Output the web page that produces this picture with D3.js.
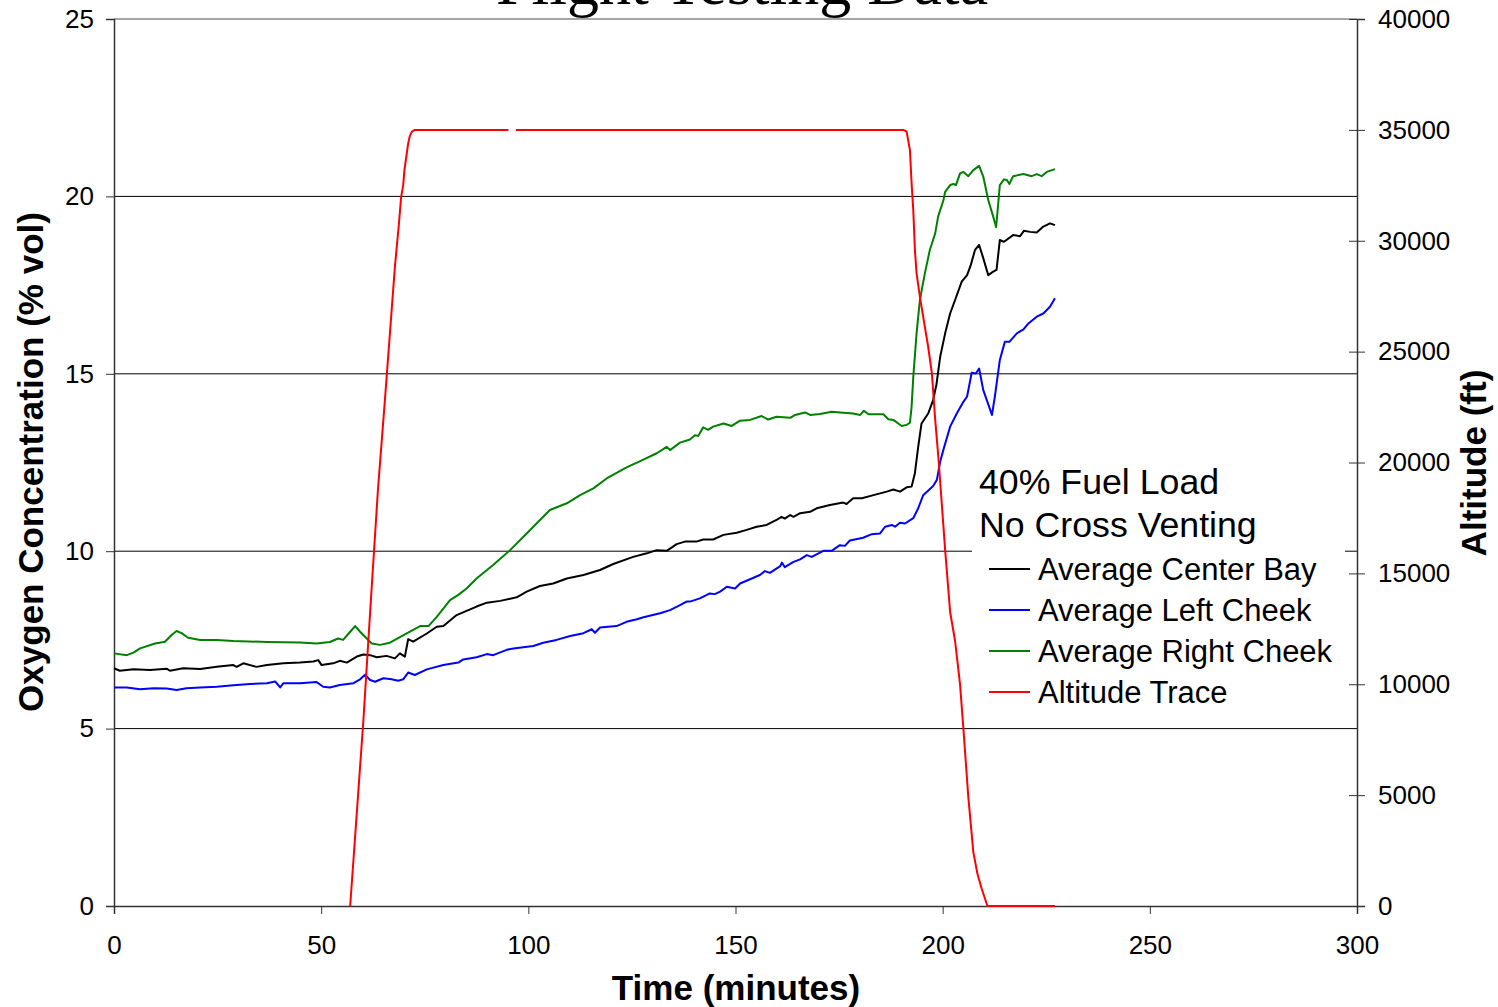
<!DOCTYPE html>
<html>
<head>
<meta charset="utf-8">
<script src="https://cdn.jsdelivr.net/npm/d3@7"></script>
<style>
  body { margin: 0; background: #fff; }
  svg { display: block; }
  text { font-family: "Liberation Sans", Arial, sans-serif; }
</style>
</head>
<body>
<div id="container"></div>
<script>
// values (time in minutes)
const centerTime = [0,1.4,4.7,8.7,12.7,13.5,16.7,20.8,24.8,28.8,29.6,31.2,34.4,36.9,40.9,44.9,48.1,49.3,50.1,52.9,54.5,56.2,58.6,60.2,61.8,63.4,65.8,67.8,69.0,70.2,71.0,72.2,75.5,77.9,79.5,82.7,87.5,90.0,93.2,97.2,99.6,102.8,106.0,109.3,113.3,117.3,120.5,125.3,128.6,131.0,133.4,135.8,137.8,140.6,142.2,144.6,147.1,150.3,152.7,155.1,157.5,159.9,161.1,161.9,163.2,164.0,165.6,168.0,169.6,172.8,176.0,176.8,178.4,180.5,183.3,186.5,188.1,189.7,191.3,192.5,193.3,194.1,194.9,196.5,197.7,198.5,199.4,200.6,201.8,203.0,204.6,205.9,206.8,207.8,208.8,209.8,211.0,212.2,213.0,213.8,214.8,217.0,218.7,219.6,221.1,222.7,224.3,225.9,227.1];
const centerO2 = [6.70,6.63,6.67,6.65,6.69,6.63,6.70,6.68,6.74,6.79,6.74,6.84,6.74,6.79,6.84,6.86,6.89,6.93,6.79,6.84,6.91,6.86,7.03,7.09,7.07,7.01,7.05,6.98,7.12,7.03,7.52,7.45,7.68,7.87,7.89,8.20,8.44,8.55,8.60,8.70,8.86,9.02,9.09,9.23,9.33,9.47,9.64,9.84,9.94,10.03,10.01,10.20,10.27,10.27,10.33,10.33,10.46,10.52,10.60,10.69,10.74,10.88,10.97,10.92,11.02,10.97,11.07,11.11,11.21,11.30,11.37,11.33,11.49,11.49,11.58,11.68,11.74,11.68,11.80,11.82,12.20,12.95,13.60,13.88,14.26,14.70,15.48,16.14,16.70,17.08,17.60,17.78,18.07,18.49,18.63,18.26,17.78,17.88,17.93,18.77,18.72,18.91,18.88,19.03,19.00,18.98,19.15,19.24,19.19];

const leftTime = [0,3.1,6.3,9.5,12.7,15.1,17.5,20.8,24.8,28.8,32.8,36.9,38.9,40.1,40.9,44.9,48.9,50.5,52.1,54.5,57.8,59.4,60.6,61.8,63.0,65.0,67.0,68.6,69.8,71.0,72.6,75.5,79.5,83.1,84.3,87.5,90.0,91.5,94.8,96.4,101.2,103.6,106.8,110.1,113.3,115.3,116.1,117.3,121.3,123.7,126.2,127.8,131.8,134.2,136.6,138.2,139.0,141.4,143.8,145.0,146.3,147.9,149.9,151.1,153.5,155.9,157.1,158.3,160.8,161.2,161.9,164.0,165.6,167.2,168.4,171.2,173.2,175.2,176.4,177.6,180.8,182.9,184.9,186.1,187.7,188.5,189.7,190.9,192.9,194.1,195.3,197.7,198.6,199.4,200.2,201.8,203.4,205.0,205.9,207.0,208.0,208.8,209.8,210.8,211.9,212.6,213.8,215.0,216.1,217.9,219.5,220.7,222.7,224.3,225.9,227.1];
const leftO2 = [6.16,6.16,6.11,6.14,6.13,6.09,6.14,6.16,6.18,6.22,6.26,6.28,6.33,6.16,6.28,6.28,6.31,6.18,6.16,6.23,6.28,6.39,6.52,6.37,6.32,6.42,6.39,6.35,6.39,6.58,6.51,6.67,6.79,6.86,6.95,7.01,7.10,7.07,7.22,7.26,7.33,7.42,7.50,7.61,7.69,7.80,7.70,7.85,7.89,8.01,8.08,8.14,8.25,8.34,8.48,8.58,8.58,8.67,8.81,8.79,8.86,9.00,8.95,9.09,9.21,9.33,9.44,9.39,9.58,9.68,9.55,9.70,9.77,9.89,9.84,10.01,10.01,10.17,10.15,10.30,10.38,10.48,10.50,10.69,10.74,10.69,10.80,10.78,10.93,11.21,11.58,11.84,12.01,12.52,12.87,13.51,13.88,14.21,14.36,15.03,15.01,15.15,14.54,14.21,13.84,14.36,15.39,15.90,15.90,16.14,16.25,16.42,16.61,16.70,16.89,17.13];

const rightTime = [0,3.1,4.7,6.3,9.9,12.3,13.9,15.1,16.3,17.9,20.8,24.8,28.8,36.9,44.9,48.9,52.1,54.1,55.3,57.0,58.2,59.4,61.0,62.2,64.2,66.6,69.0,72.2,73.9,75.9,77.9,81.1,83.1,85.1,87.5,91.5,95.6,99.6,102.4,105.2,109.3,112.5,115.7,118.9,123.7,127.0,131.0,133.4,134.2,136.6,139.0,140.2,141.0,142.2,143.4,144.6,147.1,149.1,151.1,153.5,156.3,157.9,159.9,163.2,164.4,166.8,168.0,170.4,173.2,176.0,178.4,180.1,181.0,182.1,185.7,186.9,188.1,190.1,191.3,192.1,192.5,192.9,193.7,194.5,195.7,196.9,198.2,198.9,200.2,200.6,201.8,202.6,203.2,204.2,205.0,206.2,207.4,208.8,209.8,211.0,212.2,212.9,213.8,214.8,215.5,216.1,217.0,219.5,221.5,222.7,223.9,225.1,227.1];
const rightO2 = [7.12,7.07,7.14,7.26,7.40,7.45,7.64,7.75,7.69,7.56,7.50,7.50,7.47,7.44,7.43,7.40,7.44,7.54,7.50,7.73,7.89,7.73,7.54,7.40,7.36,7.42,7.58,7.78,7.89,7.89,8.15,8.62,8.77,8.95,9.23,9.61,10.03,10.50,10.83,11.16,11.35,11.58,11.77,12.05,12.36,12.54,12.76,12.94,12.85,13.06,13.15,13.27,13.25,13.49,13.42,13.51,13.60,13.53,13.68,13.70,13.81,13.71,13.79,13.76,13.84,13.91,13.84,13.87,13.93,13.90,13.88,13.84,13.96,13.86,13.86,13.72,13.70,13.53,13.56,13.62,14.07,14.90,16.14,17.08,17.83,18.49,18.96,19.43,19.90,20.13,20.32,20.35,20.32,20.65,20.69,20.57,20.74,20.86,20.56,19.90,19.43,19.13,20.32,20.48,20.46,20.35,20.57,20.63,20.57,20.63,20.57,20.69,20.77];

// altitude trace (ft); null marks the short data gap on the plateau
const altTime = [57.0,60.2,62.0,63.7,65.4,66.6,67.8,68.7,69.3,69.8,70.1,71.0,71.4,71.9,72.6,95.2,96.1,97.0,190.5,191.3,192.1,192.5,192.9,193.3,193.7,194.5,195.7,196.5,197.4,198.2,199.0,200.6,201.8,203.0,204.2,205.0,206.2,207.4,208.4,209.4,210.8,227.1];
const altFt = [0,8400,13800,18760,22860,25840,28830,30630,31970,32510,33190,34390,34720,34920,35000,35000,null,35000,35000,34920,34090,32590,31390,29580,28530,27480,26120,25220,24020,21920,20150,16050,13260,11950,9980,8000,4890,2430,1440,790,0,0];

const timeTicks = [0,50,100,150,200,250,300];
const o2Ticks = [0,5,10,15,20,25];
const altTicks = [0,5000,10000,15000,20000,25000,30000,35000,40000];

const seriesNames = ["Average Center Bay","Average Left Cheek","Average Right Cheek","Altitude Trace"];
const seriesColors = ["#000000","#0000ff","#008000","#ff0000"];

const widthSVG = 1498, heightSVG = 1007;
const plot = {left:114, right:1357, top:19, bottom:906};

const svg = d3.select('#container').append('svg')
  .attr('width', widthSVG).attr('height', heightSVG);

const x = d3.scaleLinear().domain([0,300]).range([plot.left, plot.right]);
const yO2 = d3.scaleLinear().domain([0,25]).range([plot.bottom, plot.top]);
const yAlt = d3.scaleLinear().domain([0,40000]).range([plot.bottom, plot.top]);

// title (runs off the top of the picture, as in the original)
svg.append('text')
  .attr('x', 742).attr('y', 4)
  .attr('text-anchor','middle')
  .style('font-family','"Liberation Serif", "Times New Roman", serif')
  .style('font-size','64px')
  .text('Flight Testing Data');

// horizontal gridlines
svg.append('g').selectAll('line')
  .data(o2Ticks.filter(d => d > 0 && d < 25))
  .enter().append('line')
  .attr('x1', plot.left).attr('x2', plot.right)
  .attr('y1', d => yO2(d)).attr('y2', d => yO2(d))
  .attr('stroke','#000').attr('stroke-width',1);

// top border of the plot area
svg.append('line')
  .attr('x1', plot.left).attr('x2', plot.right)
  .attr('y1', plot.top).attr('y2', plot.top)
  .attr('stroke','#888').attr('stroke-width',1.5);

// axes
const fontTick = '26px';

const xAxis = svg.append('g')
  .attr('transform', `translate(0,${plot.bottom})`)
  .call(d3.axisBottom(x).tickValues(timeTicks).tickSize(8).tickPadding(22).tickFormat(d3.format('d')));

const leftAxis = svg.append('g')
  .attr('transform', `translate(${plot.left},0)`)
  .call(d3.axisLeft(yO2).tickValues(o2Ticks).tickSize(8).tickPadding(12).tickFormat(d3.format('d')));

const rightAxis = svg.append('g')
  .attr('transform', `translate(${plot.right},0)`)
  .call(d3.axisRight(yAlt).tickValues(altTicks).tickSize(8).tickPadding(13).tickFormat(d3.format('d')));
rightAxis.selectAll('.tick line').attr('x1', -8);

[xAxis, leftAxis, rightAxis].forEach(a => {
  a.select('.domain').attr('stroke','#333').attr('stroke-width',1.5);
  a.selectAll('.tick line').attr('stroke','#333');
  a.selectAll('.tick text')
    .style('font-family','"Liberation Sans", Arial, sans-serif')
    .style('font-size', fontTick).attr('fill','#000');
});

// axis titles
svg.append('text')
  .attr('x', 736).attr('y', 1000)
  .attr('text-anchor','middle')
  .style('font-size','35px').style('font-weight','bold')
  .text('Time (minutes)');

svg.append('text')
  .attr('transform','translate(43,462) rotate(-90)')
  .attr('text-anchor','middle')
  .style('font-size','35px').style('font-weight','bold')
  .text('Oxygen Concentration (% vol)');

svg.append('text')
  .attr('transform','translate(1486,463) rotate(-90)')
  .attr('text-anchor','middle')
  .style('font-size','35px').style('font-weight','bold')
  .text('Altitude (ft)');

// series lines
const o2Line = d3.line().x(d => x(d[0])).y(d => yO2(d[1]));
const altLine = d3.line().defined(d => d[1] !== null).x(d => x(d[0])).y(d => yAlt(d[1]));

const o2Series = [
  d3.zip(centerTime, centerO2),
  d3.zip(leftTime, leftO2),
  d3.zip(rightTime, rightO2)
];

const lines = svg.append('g').attr('fill','none').attr('stroke-width',2).attr('stroke-linejoin','round');
o2Series.forEach((s, i) => {
  lines.append('path').attr('d', o2Line(s)).attr('stroke', seriesColors[i]);
});
lines.append('path').attr('d', altLine(d3.zip(altTime, altFt))).attr('stroke', seriesColors[3]);

// legend
const legend = svg.append('g').attr('transform','translate(972,455)');
legend.append('rect').attr('width',373).attr('height',258).attr('fill','#fff');
legend.append('text').attr('x',7).attr('y',39).style('font-size','35.7px').text('40% Fuel Load');
legend.append('text').attr('x',7).attr('y',82).style('font-size','35.7px').text('No Cross Venting');

const entries = legend.selectAll('g.entry')
  .data(seriesNames)
  .enter().append('g')
  .attr('class','entry')
  .attr('transform', (d, i) => `translate(0,${114 + i*41})`);
entries.append('line')
  .attr('x1',17).attr('x2',58)
  .attr('stroke', (d, i) => seriesColors[i]).attr('stroke-width',2);
entries.append('text')
  .attr('x',66).attr('y',11)
  .style('font-size','31px')
  .text(d => d);
</script>
</body>
</html>
